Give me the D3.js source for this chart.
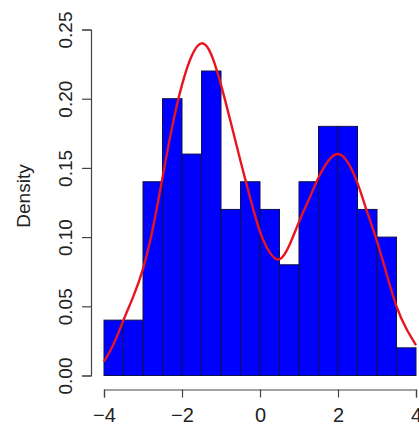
<!DOCTYPE html>
<html>
<head>
<meta charset="utf-8">
<script src="https://cdn.jsdelivr.net/npm/d3@7"></script>
<style>
  body { margin: 0; background: #fff; }
  text { font-family: "Liberation Sans", Arial, sans-serif; fill: #222; }
</style>
</head>
<body>
<svg id="chart" width="419" height="427"></svg>
<script>
// histogram bins (width 0.5) and their densities
var binStarts = [-4, -3.5, -3, -2.5, -2, -1.5, -1, -0.5, 0, 0.5, 1, 1.5, 2, 2.5, 3, 3.5]
var densities = [0.04, 0.04, 0.14, 0.20, 0.16, 0.22, 0.12, 0.14, 0.12, 0.08, 0.14, 0.18, 0.18, 0.12, 0.10, 0.02]
var binWidth = 0.5

// red density curve
var curveX = [-4, -3.75, -3.5, -3.25, -3, -2.75, -2.5, -2.25, -2, -1.75, -1.5, -1.25, -1, -0.75, -0.5, -0.25,
  0, 0.25, 0.5, 0.75, 1, 1.25, 1.5, 1.75, 2, 2.25, 2.5, 2.75, 3, 3.25, 3.5, 3.75, 4]
var curveY = [0.010, 0.023, 0.040, 0.057, 0.077, 0.106, 0.143, 0.180, 0.210, 0.231, 0.240, 0.232, 0.210, 0.183, 0.155, 0.128,
  0.104, 0.089, 0.084, 0.094, 0.111, 0.127, 0.143, 0.155, 0.160, 0.154, 0.139, 0.118, 0.097, 0.073, 0.050, 0.034, 0.022]

var xTicks = [-4, -2, 0, 2, 4]
var yTicks = [0, 0.05, 0.10, 0.15, 0.20, 0.25]

var svg = d3.select("#chart")

var x = d3.scaleLinear().domain([-4, 4]).range([104, 416])
var y = d3.scaleLinear().domain([0, 0.25]).range([375.5, 29.5])

// bars
svg.append("g")
  .selectAll("rect")
  .data(binStarts)
  .enter()
  .append("rect")
  .attr("x", function(d) { return x(d) })
  .attr("y", function(d, i) { return y(densities[i]) })
  .attr("width", function(d) { return x(d + binWidth) - x(d) })
  .attr("height", function(d, i) { return y(0) - y(densities[i]) })
  .attr("fill", "#0000ff")
  .attr("stroke", "#10104a")
  .attr("stroke-width", 1)

// density curve
var line = d3.line()
  .x(function(d) { return x(d) })
  .y(function(d, i) { return y(curveY[i]) })
  .curve(d3.curveNatural)

svg.append("path")
  .datum(curveX)
  .attr("d", line)
  .attr("fill", "none")
  .attr("stroke", "#e8141e")
  .attr("stroke-width", 2.4)

// x axis
var xAxis = svg.append("g")
  .attr("transform", "translate(0,389.5)")
  .call(d3.axisBottom(x).tickValues(xTicks).tickSize(8).tickPadding(10)
    .tickFormat(function(d) { return d < 0 ? "\u2212" + Math.abs(d) : d }))
xAxis.select(".domain").attr("stroke", "#444").attr("stroke-width", 1.2)
xAxis.selectAll(".tick line").attr("stroke", "#444").attr("stroke-width", 1.2)
xAxis.selectAll("text").attr("font-size", 20).attr("fill", "#222")

// y axis
var yAxis = svg.append("g")
  .attr("transform", "translate(91,0)")
  .call(d3.axisLeft(y).tickValues(yTicks).tickSize(9)
    .tickFormat(d3.format(".2f")))
yAxis.select(".domain").attr("stroke", "#444").attr("stroke-width", 1.2)
yAxis.selectAll(".tick line").attr("stroke", "#444").attr("stroke-width", 1.2)
yAxis.selectAll(".tick text")
  .attr("font-size", 19)
  .attr("fill", "#222")
  .attr("text-anchor", "middle")
  .attr("dy", null)
  .attr("x", null)
  .attr("transform", "translate(-19,0) rotate(-90)")

svg.append("text")
  .attr("transform", "translate(30,196) rotate(-90)")
  .attr("text-anchor", "middle")
  .attr("font-size", 19)
  .text("Density")
</script>
</body>
</html>
